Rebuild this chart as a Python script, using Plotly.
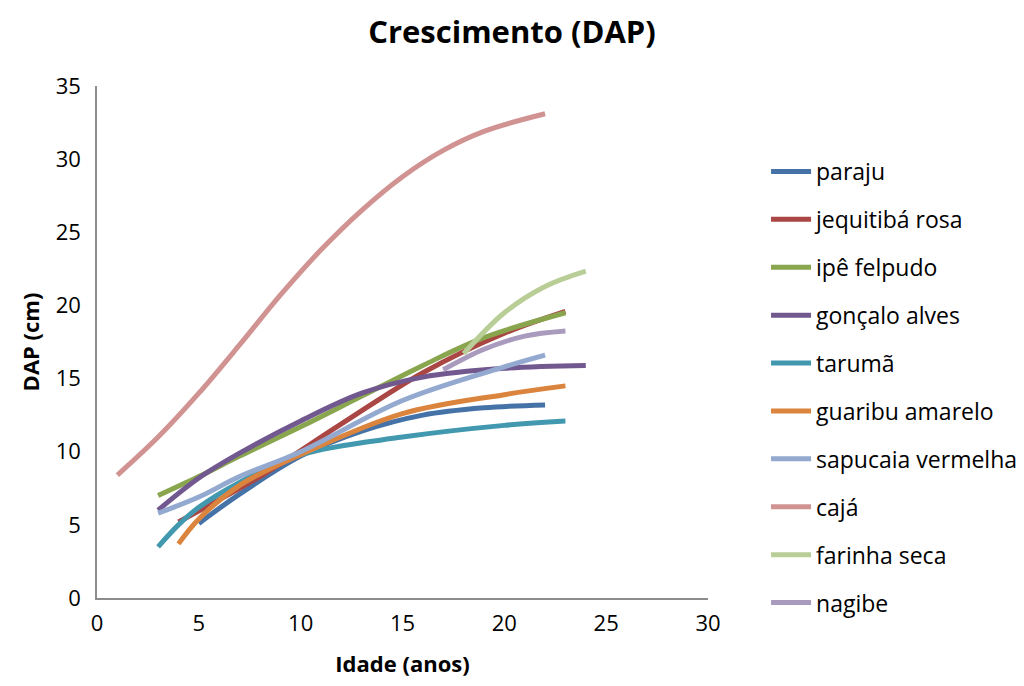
import plotly.graph_objects as go

# Tree diameter (DAP, cm) by age (years) for each species
species = ["paraju", "jequitibá rosa", "ipê felpudo", "gonçalo alves", "tarumã",
           "guaribu amarelo", "sapucaia vermelha", "cajá", "farinha seca", "nagibe"]

paraju_x = [5, 7, 10, 13, 16, 19, 22]
paraju_y = [5.1, 7.1, 9.7, 11.4, 12.5, 13.0, 13.2]

jequitiba_x = [4, 8, 12, 16, 20, 23]
jequitiba_y = [5.2, 8.3, 11.9, 15.4, 18.1, 19.6]

ipe_x = [3, 5, 7, 10, 13, 16, 19, 23]
ipe_y = [7.0, 8.3, 9.7, 11.7, 13.8, 15.9, 17.8, 19.5]

goncalo_x = [3, 5, 7, 10, 13, 16, 20, 24]
goncalo_y = [6.0, 8.2, 9.9, 12.1, 14.0, 15.1, 15.7, 15.9]

taruma_x = [3, 4, 5, 7, 10, 15, 20, 23]
taruma_y = [3.5, 5.0, 6.2, 7.9, 9.8, 11.0, 11.8, 12.1]

guaribu_x = [4, 5, 7, 10, 15, 20, 23]
guaribu_y = [3.7, 5.4, 7.7, 9.8, 12.6, 13.9, 14.5]

sapucaia_x = [3, 5, 7, 10, 15, 20, 22]
sapucaia_y = [5.8, 6.9, 8.3, 10.0, 13.5, 15.8, 16.6]

caja_x = [1, 3, 5, 7, 9, 11, 13, 15, 17, 19, 22]
caja_y = [8.4, 11.0, 14.0, 17.3, 20.7, 23.8, 26.5, 28.8, 30.6, 31.9, 33.1]

farinha_x = [18, 20, 22, 24]
farinha_y = [16.7, 19.5, 21.3, 22.35]

nagibe_x = [17, 19, 21, 23]
nagibe_y = [15.6, 17.0, 17.9, 18.25]

series_x = [paraju_x, jequitiba_x, ipe_x, goncalo_x, taruma_x,
            guaribu_x, sapucaia_x, caja_x, farinha_x, nagibe_x]
series_y = [paraju_y, jequitiba_y, ipe_y, goncalo_y, taruma_y,
            guaribu_y, sapucaia_y, caja_y, farinha_y, nagibe_y]

colors = ["#4572A7", "#AA4643", "#89A54E", "#71588F", "#4198AF",
          "#DB843D", "#93A9CF", "#D19392", "#B9CD96", "#A99BBD"]

FONT = "'Open Sans', sans-serif"

fig = go.Figure()
for i, name in enumerate(species):
    fig.add_trace(go.Scatter(
        x=series_x[i], y=series_y[i], name=name, mode="lines",
        line=dict(color=colors[i], width=5, shape="spline", smoothing=1.0),
        legendgroup=name,
    ))

fig.update_layout(
    width=1024, height=686,
    paper_bgcolor="white", plot_bgcolor="white",
    margin=dict(l=97, r=316, t=86, b=88, autoexpand=False),
    font=dict(family=FONT, size=22, color="black"),
    title=dict(text="<b>Crescimento (DAP)</b>", x=0.5, xanchor="center",
               y=0.953, yanchor="middle", font=dict(size=31, family=FONT)),
    xaxis=dict(range=[0, 30], tickvals=[0, 5, 10, 15, 20, 25, 30],
               showgrid=False, zeroline=False, showline=True,
               linecolor="#8C8C8C", linewidth=1.5, ticks="",
               tickfont=dict(size=22), ticklabelstandoff=5,
               title=dict(text="<b>Idade (anos)</b>", font=dict(size=22), standoff=20)),
    yaxis=dict(range=[0, 35], tickvals=[0, 5, 10, 15, 20, 25, 30, 35],
               showgrid=False, zeroline=False, showline=True,
               linecolor="#8C8C8C", linewidth=1.5, ticks="",
               tickfont=dict(size=22), ticklabelstandoff=10,
               title=dict(text="<b>DAP (cm)</b>", font=dict(size=22), standoff=10)),
    legend=dict(x=1.095, xanchor="left", y=0.875, yanchor="top",
                font=dict(size=23), tracegroupgap=15,
                bgcolor="rgba(0,0,0,0)", itemwidth=40),
    showlegend=True,
)

fig.write_html("out.html")
